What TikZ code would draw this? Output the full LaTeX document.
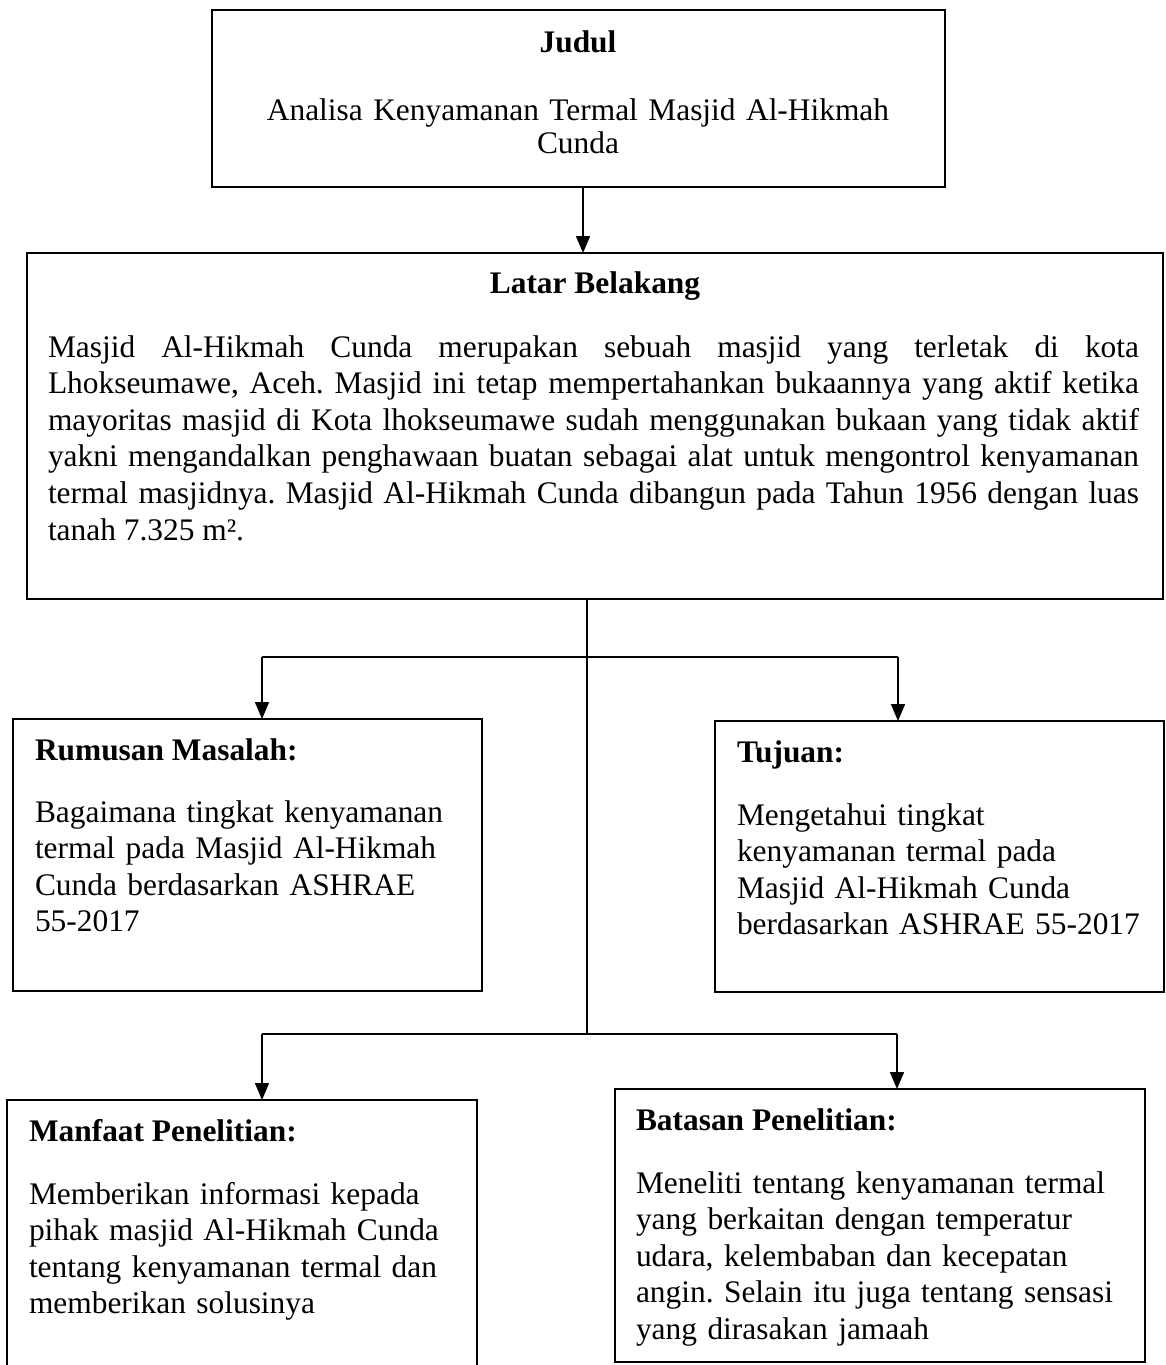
\documentclass[tikz,border=0pt]{standalone}
\usepackage{fontspec}
\setmainfont{Liberation Serif}
\usetikzlibrary{arrows.meta}
\newcommand\mylbspace{\spaceskip=0.25em plus 2em minus 0.05em\relax}
\begin{document}
\begin{tikzpicture}[x=1pt,y=-1pt,
  box/.style={draw=black, line width=2.2pt, rectangle, inner sep=0pt, outer sep=0pt},
  txt/.style={inner sep=0pt, outer sep=0pt, anchor=base west, align=left,
              font=\fontsize{31.4}{36.6}\selectfont\frenchspacing},
  head/.style={txt, font=\fontsize{31.4}{36.6}\selectfont\bfseries},
  link/.style={line width=1.7pt},
  arr/.style={link, -{Triangle[length=17pt,width=14pt]}}
]
\useasboundingbox (0,0) rectangle (1166,1365);
\clip (0,0) rectangle (1166,1365);

% boxes
\node[box, minimum width=733pt, minimum height=177pt] (judul)   at (578.5,98.5) {};
\node[box, minimum width=1136pt, minimum height=346pt] (latar)  at (595,426) {};
\node[box, minimum width=469pt, minimum height=272pt] (rumusan) at (247.5,855) {};
\node[box, minimum width=449pt, minimum height=271pt] (tujuan)  at (939.5,856.5) {};
\node[box, minimum width=470pt, minimum height=320pt] (manfaat) at (242,1260) {};
\node[box, minimum width=530pt, minimum height=273pt] (batasan) at (880,1225.5) {};

% texts
\node[head, anchor=base] (tJudul) at (578,52) {Judul};
\node[txt, anchor=base, align=center, text width=720pt,
      font=\fontsize{31.4}{33}\selectfont] (tJudulB) at (578,120)
  {Analisa Kenyamanan Termal Masjid Al-Hikmah\\Cunda};

\node[head, anchor=base] (tLatar) at (595,293) {Latar Belakang};
\node[txt, text width=1091pt] (tLatarB) at (48,357)
  {\mylbspace
   \makebox[\linewidth][s]{Masjid Al-Hikmah Cunda merupakan sebuah masjid yang terletak di kota}\\
   \makebox[\linewidth][s]{Lhokseumawe, Aceh. Masjid ini tetap mempertahankan bukaannya yang aktif ketika}\\
   \makebox[\linewidth][s]{mayoritas masjid di Kota lhokseumawe sudah menggunakan bukaan yang tidak aktif}\\
   \makebox[\linewidth][s]{yakni mengandalkan penghawaan buatan sebagai alat untuk mengontrol kenyamanan}\\
   \makebox[\linewidth][s]{termal masjidnya. Masjid Al-Hikmah Cunda dibangun pada Tahun 1956 dengan luas}\\
   tanah 7.325 m².};

\node[head] (tRumusan) at (35,760) {Rumusan Masalah:};
\node[txt, text width=440pt] (tRumusanB) at (35,822)
  {Bagaimana tingkat kenyamanan\\termal pada Masjid Al-Hikmah\\Cunda berdasarkan ASHRAE\\55-2017};

\node[head] (tTujuan) at (737,762) {Tujuan:};
\node[txt, text width=425pt] (tTujuanB) at (737,825)
  {Mengetahui tingkat\\kenyamanan termal pada\\Masjid Al-Hikmah Cunda\\berdasarkan ASHRAE 55-2017};

\node[head] (tManfaat) at (29,1141) {Manfaat Penelitian:};
\node[txt, text width=440pt] (tManfaatB) at (29,1204)
  {Memberikan informasi kepada\\pihak masjid Al-Hikmah Cunda\\tentang kenyamanan termal dan\\memberikan solusinya};

\node[head] (tBatasan) at (636,1130) {Batasan Penelitian:};
\node[txt, text width=500pt] (tBatasanB) at (636,1193)
  {Meneliti tentang kenyamanan termal\\yang berkaitan dengan temperatur\\udara, kelembaban dan kecepatan\\angin. Selain itu juga tentang sensasi\\yang dirasakan jamaah};

% connectors
\coordinate (ja) at (583,0);
\coordinate (trunk) at (587,0);
\coordinate (j1L) at (262,657);
\coordinate (j1R) at (898,657);
\coordinate (j2)  at (587,1034);
\coordinate (j2L) at (262,1034);
\coordinate (j2R) at (897,1034);

\draw[arr] (judul.south -| ja) -- (latar.north -| ja);
\draw[link] (latar.south -| trunk) -- (j2);
\draw[link] (j1L) -- (j1R);
\draw[arr] (j1L) -- (j1L |- rumusan.north);
\draw[arr] (j1R) -- (j1R |- tujuan.north);
\draw[link] (j2L) -- (j2R);
\draw[arr] (j2L) -- (j2L |- manfaat.north);
\draw[arr] (j2R) -- (j2R |- batasan.north);
\end{tikzpicture}
\end{document}
